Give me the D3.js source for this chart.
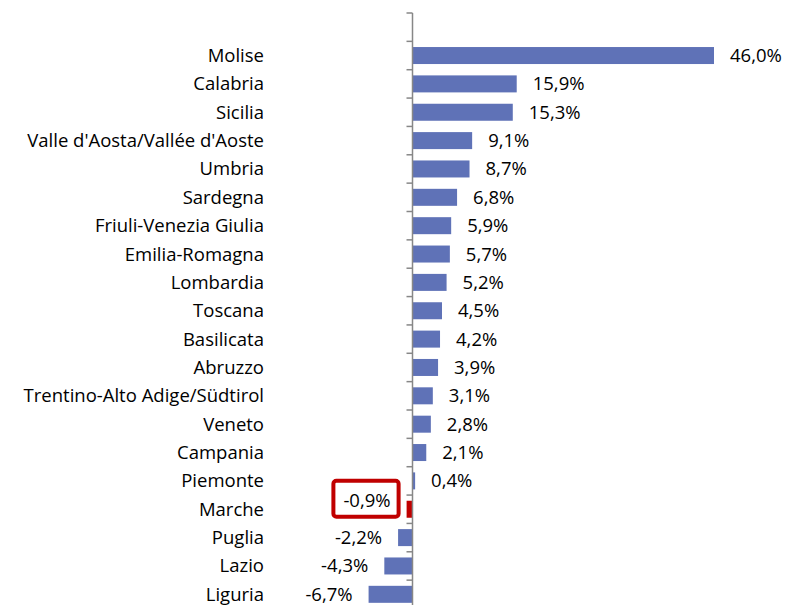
<!DOCTYPE html>
<html>
<head>
<meta charset="utf-8">
<script src="https://cdn.jsdelivr.net/npm/d3@7"></script>
<style>
  body { margin: 0; background: #fff; }
  text { font-family: "Open Sans", sans-serif; fill: #000; }
</style>
</head>
<body>
<div id="chart"></div>
<script>
// regions, top to bottom (first slot is an empty category, as in the original)
const regions = ["", "Molise", "Calabria", "Sicilia", "Valle d'Aosta/Vallée d'Aoste", "Umbria",
  "Sardegna", "Friuli-Venezia Giulia", "Emilia-Romagna", "Lombardia", "Toscana",
  "Basilicata", "Abruzzo", "Trentino-Alto Adige/Südtirol", "Veneto", "Campania",
  "Piemonte", "Marche", "Puglia", "Lazio", "Liguria"];
const values = [null, 46.0, 15.9, 15.3, 9.1, 8.7, 6.8, 5.9, 5.7, 5.2, 4.5, 4.2, 3.9,
  3.1, 2.8, 2.1, 0.4, -0.9, -2.2, -4.3, -6.7];
const highlighted = ["Marche"];

const width = 786, height = 605;
const svg = d3.select("#chart").append("svg")
    .attr("width", width)
    .attr("height", height);

let x = d3.scaleLinear().domain([0, 46]).range([412.5, 714]);
const band = d3.scaleBand().domain(regions).range([13, 608.5]);

const fmt = v => d3.format(".1f")(v).replace(".", ",").replace("−", "-") + "%";

let data = regions.map((r, i) => ({region: r, value: values[i]})).filter(d => d.value !== null);

// bars
svg.append("g").selectAll("rect")
  .data(data)
  .join("rect")
    .attr("x", d => x(Math.min(0, d.value)))
    .attr("y", d => band(d.region) + band.bandwidth() / 2 - 8.5)
    .attr("width", d => Math.abs(x(d.value) - x(0)))
    .attr("height", 17)
    .attr("fill", d => highlighted.includes(d.region) ? "#c00000" : "#5f72b7");

// category axis: line plus ticks at the band edges
let gAxis = svg.append("g").attr("transform", `translate(${x(0)},0)`);
gAxis.append("line")
    .attr("y1", 13).attr("y2", 610)
    .attr("stroke", "#878787").attr("stroke-width", 1.5);
gAxis.selectAll(".edge")
  .data(d3.range(regions.length + 1))
  .join("line")
    .attr("x1", -6).attr("x2", 0)
    .attr("y1", i => 13 + i * band.step())
    .attr("y2", i => 13 + i * band.step())
    .attr("stroke", "#878787").attr("stroke-width", 1.5);

// category labels
svg.append("g").selectAll("text")
  .data(data)
  .join("text")
    .attr("x", 264)
    .attr("y", d => band(d.region) + band.bandwidth() / 2)
    .attr("dy", "0.35em")
    .attr("text-anchor", "end")
    .attr("font-size", 18.5)
    .text(d => d.region);

// value labels
const vlab = svg.append("g").selectAll("text")
  .data(data)
  .join("text")
    .attr("x", d => d.value >= 0 ? x(d.value) + 16 : x(d.value) - 16)
    .attr("y", d => band(d.region) + band.bandwidth() / 2 - (highlighted.includes(d.region) ? 9 : 0))
    .attr("dy", "0.35em")
    .attr("text-anchor", d => d.value >= 0 ? "start" : "end")
    .attr("font-size", 18.5)
    .text(d => fmt(d.value));

// red box round the highlighted label
vlab.filter(d => highlighted.includes(d.region)).each(function() {
  const b = this.getBBox();
  svg.append("rect")
    .attr("x", b.x - 10).attr("y", b.y - 6)
    .attr("width", b.width + 18).attr("height", b.height + 11)
    .attr("rx", 3)
    .attr("fill", "none")
    .attr("stroke", "#c00000")
    .attr("stroke-width", 4);
});
</script>
</body>
</html>
